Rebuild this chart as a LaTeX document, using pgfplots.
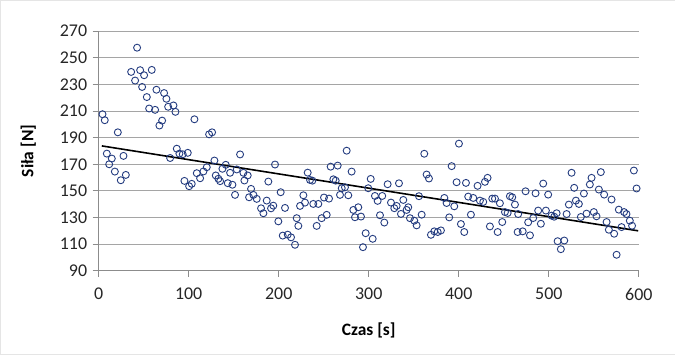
\documentclass[border=0pt]{standalone}
\usepackage{fontspec}
\setmainfont{Carlito}
\usepackage{pgfplots}
\usepackage{pgfplotstable}
\pgfplotsset{compat=1.18}
\definecolor{mk}{RGB}{36,60,128}
\definecolor{gridc}{RGB}{165,165,165}
\definecolor{axc}{RGB}{140,140,140}
\pgfplotstableread{
t F
4.3 207.6
6.8 203.1
21.3 194
42.7 257.6
36.1 239.4
46.1 240.7
50.5 236.9
59 240.9
40.5 232.9
48.3 228.1
53.5 220.5
64.2 226
72.7 223.5
75.3 219.2
56.1 211.9
62.7 210.9
77.2 213.2
83.1 214.2
85.3 209.4
70.5 202.8
67.5 199.1
106.4 203.8
122.7 192.5
126 194
9.1 178
14.6 174.3
11.7 170
18 164.5
24.6 158
30.2 162
27.6 176.3
86.8 181.7
89.7 178
93.4 177.5
79.4 174.7
95.3 157.5
99.0 178.6
157.1 177.4
195.9 169.8
128.6 172.8
120.1 167.8
116.4 164.6
109 163.3
112.7 159.5
103.4 155.3
100.5 153.5
141.2 169.6
137.5 166.6
146 163.6
153.4 166.1
160.8 163.6
165.6 161.6
130.1 161.6
133 159.1
134.9 157.3
143.4 155.8
148.6 154.6
161.9 157.8
151.5 147
188.5 157
169.3 151.5
167.1 145.2
171.9 147
175.6 144
186.7 142.7
180.4 136.9
183 133.2
191.5 136.9
194 138.9
202.2 149
207 137.2
199.6 127.1
204.5 116.4
210 117.1
213.7 115.1
275.5 180.2
257.7 168.2
265.5 169
281 164.5
232.2 163.7
234.8 158.2
237.4 157.7
260.7 158.7
263.3 157.7
270 152
273.6 152.7
268.1 147
277.3 146.7
227.4 146.7
229.2 141.2
223.7 138.7
238.4 140.2
244 140.2
250.3 145
255.9 144.2
220 129.5
221.8 123.7
218.1 109.5
247.7 129.5
253.3 132
242.2 123.7
282.9 135.7
288.4 137.7
284.7 130.2
291.4 130.7
296.6 118.2
304.4 114
293.6 107.7
302.2 159
299.5 152
306.9 146.2
309.9 142.5
315 146.2
321 155
333.6 155.7
312.5 131.7
317.3 126.2
324.7 141.2
328.4 137
331 138.7
335.8 132.7
338.4 143.2
343.9 137.7
342.1 135.7
345.8 129.5
400.2 185.5
361.7 177.9
392.1 168.6
364.3 162.3
366.9 159.3
397.6 156.5
408 156
420.9 153.8
429.1 156.8
432 159.8
355.8 146
384 144.7
386.5 140.9
395 138.4
410.5 145.7
416.1 144.7
423.5 142.7
427.2 141.7
437.2 144.2
440.2 144.2
445.7 140.7
456.8 146
459.4 145.2
462.4 139.7
451.3 134.1
454.3 133.4
466 132.6
358.8 132.1
350.6 127.6
353.2 124.1
389.4 130.1
413.5 132.1
402.4 125.1
406.1 119.1
369.1 117
372.8 119.6
376.6 119.1
380.2 120.3
434.6 123.3
443.2 119.1
448.3 126.6
465.4 119.1
525.3 163.6
557.8 164.1
547.5 159.8
545.6 154.8
594.5 165.3
597.5 151.8
493.8 155.5
474.2 149.7
485.3 148.2
499.3 147.2
528.2 152.3
555.6 151
561.5 147.2
569.7 143.5
539 148
530.1 142.7
533.4 140.2
522.3 139.7
488.2 135.2
496.8 135.2
508.7 133.2
519.8 132.6
503.1 131.4
506 130.6
482.7 129.6
477.1 126.4
491.2 125.3
535.6 130.4
541.9 132.9
550 134.1
553 130.9
577.8 135.9
583.6 134.1
586.3 132.6
590 127.6
592.5 123.8
564.2 126.6
580.8 122.8
566.7 120.8
572.6 117.8
471 119.6
479.1 116.6
509.8 112.2
517.2 112.7
513.4 106.2
575.3 102
}\pts
\begin{document}
\begin{tikzpicture}
\path[draw=gray!20, fill=white] (0bp,0bp) rectangle (675bp,354bp);
\begin{axis}[
  at={(98.5bp,83.3bp)}, anchor=south west,
  scale only axis, width=540.5bp, height=239.7bp,
  xmin=0, xmax=600, ymin=90, ymax=270,
  xtick={0,100,...,600}, ytick={90,110,...,270},
  axis x line*=bottom, axis y line*=left,
  axis line style={axc, line width=0.8pt, -},
  ymajorgrids, grid style={gridc, line width=0.8pt},
  tick align=outside, major tick length=6bp,
  tick style={axc, line width=0.8pt},
  /pgf/number format/assume math mode=true,
  ticklabel style={font=\fontsize{18pt}{21pt}\selectfont, text=black!85},
  yticklabel style={xshift=-2bp},
  xticklabel style={yshift=-8bp},
  xlabel={Czas [s]}, ylabel={Siła [N]},
  label style={font=\fontsize{17.5pt}{21pt}\selectfont\bfseries},
  xlabel style={at={(axis description cs:0.5,-0.25)}, anchor=center},
  ylabel style={at={(axis description cs:-0.13,0.5)}, anchor=center},
  clip=false,
]
\addplot[only marks, mark=o, mark size=3.5bp, mark options={mk, line width=0.9pt}] table[x=t, y=F] {\pts};
\addplot[black, line width=1.6pt] coordinates {(3.5,183.8) (599.3,120.0)};
\end{axis}
\end{tikzpicture}
\end{document}
